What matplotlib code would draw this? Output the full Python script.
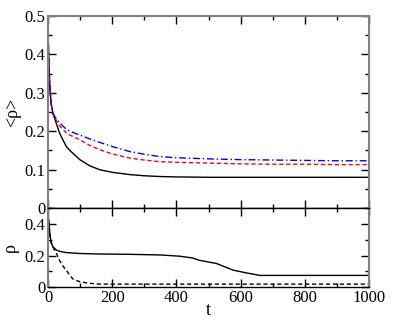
import matplotlib
matplotlib.use("Agg")
import matplotlib.pyplot as plt
from matplotlib.ticker import MultipleLocator, FuncFormatter

plt.rcParams['font.family'] = ['Liberation Serif', 'DejaVu Serif']

# top panel: <rho> vs t
t_top = [0, 3, 6, 10, 16, 26, 36, 57, 68, 99, 130, 161, 200, 255, 300, 348, 400, 500, 600, 700, 800, 900, 1000]
black_top = [0.465, 0.37, 0.31, 0.27, 0.245, 0.22, 0.195, 0.16, 0.15, 0.126, 0.11, 0.0997, 0.093, 0.087, 0.084, 0.082, 0.081, 0.080, 0.080, 0.080, 0.080, 0.080, 0.080]
red_top = [0.465, 0.37, 0.31, 0.27, 0.245, 0.228, 0.214, 0.196, 0.19, 0.178, 0.163, 0.152, 0.141, 0.130, 0.125, 0.1206, 0.119, 0.117, 0.115, 0.114, 0.114, 0.113, 0.113]
blue_top = [0.465, 0.37, 0.31, 0.27, 0.245, 0.232, 0.222, 0.205, 0.2, 0.19, 0.18, 0.171, 0.16, 0.147, 0.14, 0.134, 0.131, 0.128, 0.126, 0.125, 0.124, 0.123, 0.123]

# bottom panel: rho vs t
t_bot = [0, 3, 6, 10, 16, 26, 36, 57, 100, 161, 250, 350, 411, 450, 472, 525, 577, 620, 660, 700, 800, 900, 1000]
solid_bot = [0.47, 0.40, 0.33, 0.28, 0.254, 0.235, 0.227, 0.219, 0.213, 0.21, 0.208, 0.204, 0.196, 0.185, 0.17, 0.15, 0.108, 0.09, 0.075, 0.075, 0.075, 0.075, 0.075]
t_dash = [0, 3, 6, 10, 16, 26, 36, 46, 57, 68, 78, 99, 130, 161, 250, 400, 600, 800, 1000]
dash_bot = [0.47, 0.40, 0.33, 0.28, 0.25, 0.215, 0.17, 0.135, 0.108, 0.075, 0.052, 0.035, 0.025, 0.02, 0.02, 0.02, 0.02, 0.02, 0.02]


def fmt(v, pos):
    if abs(v) < 1e-9:
        return '0'
    return f'{v:g}'


fig = plt.figure(figsize=(4.15, 3.21), dpi=100)
ax1 = fig.add_axes([0.1157, 0.352, 0.7735, 0.598])
ax2 = fig.add_axes([0.1157, 0.105, 0.7735, 0.247])

ax1.plot(t_top, black_top, color='black', lw=1.0)
ax1.plot(t_top, red_top, color='red', lw=1.0, dashes=(3, 2))
ax1.plot(t_top, blue_top, color='blue', lw=1.0, dashes=(5, 2, 1, 2))

ax2.plot(t_bot, solid_bot, color='black', lw=1.0)
ax2.plot(t_dash, dash_bot, color='black', lw=1.0, dashes=(3, 2))

ax1.set_xlim(0, 1000)
ax1.set_ylim(0, 0.5)
ax2.set_xlim(0, 1000)
ax2.set_ylim(0, 0.5)

ax1.yaxis.set_major_locator(MultipleLocator(0.1))
ax1.yaxis.set_minor_locator(MultipleLocator(0.05))
ax2.yaxis.set_major_locator(MultipleLocator(0.2))
ax2.yaxis.set_minor_locator(MultipleLocator(0.1))
for ax in (ax1, ax2):
    ax.xaxis.set_major_locator(MultipleLocator(200))
    ax.xaxis.set_minor_locator(MultipleLocator(100))
    ax.yaxis.set_major_formatter(FuncFormatter(fmt))
    ax.xaxis.set_major_formatter(FuncFormatter(fmt))
    ax.tick_params(which='both', direction='in', top=True, right=True, labelsize=12, pad=2)
    ax.tick_params(which='major', length=6, width=1)
    ax.tick_params(which='minor', length=3, width=1)
    for side in ('left', 'right', 'top'):
        ax.spines[side].set_color('#808080')
        ax.spines[side].set_linewidth(1.5)
    ax.spines['bottom'].set_linewidth(1.0)

ax1.tick_params(labelbottom=False)
ax2.spines['top'].set_color('black')
ax2.spines['top'].set_linewidth(1.0)

ax1.set_ylabel('<ρ>', fontsize=13, labelpad=2)
ax2.set_ylabel('ρ', fontsize=13, labelpad=4)
ax2.set_xlabel('t', fontsize=13, labelpad=-3)

fig.savefig('out.png', dpi=100)
